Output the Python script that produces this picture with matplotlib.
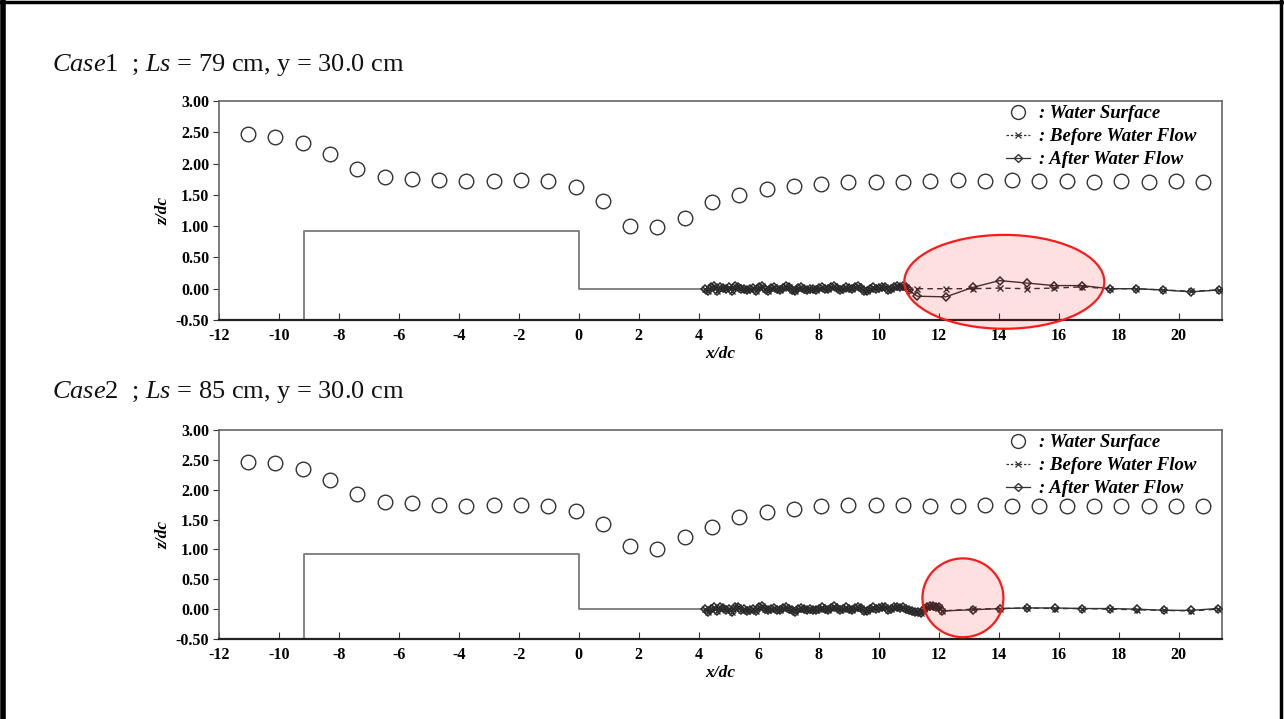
import matplotlib
matplotlib.use("Agg")
import matplotlib.pyplot as plt
from matplotlib.patches import Ellipse
from matplotlib.lines import Line2D
import matplotlib.ticker as mticker

plt.rcParams['mathtext.fontset'] = 'custom'
plt.rcParams['mathtext.it'] = 'Liberation Serif:italic'
plt.rcParams['mathtext.rm'] = 'Liberation Serif'
plt.rcParams['axes.unicode_minus'] = False

# ---------------- data ----------------
titles = [r"$\mathit{Case}$1  ; $\mathit{Ls}$ = 79 cm, y = 30.0 cm",
          r"$\mathit{Case}$2  ; $\mathit{Ls}$ = 85 cm, y = 30.0 cm"]

ws_x = [-11.03, -10.12, -9.21, -8.30, -7.39, -6.48, -5.57, -4.66, -3.75, -2.84,
        -1.93, -1.02, -0.11, 0.80, 1.71, 2.62, 3.53, 4.44, 5.35, 6.26,
        7.17, 8.08, 8.99, 9.90, 10.81, 11.72, 12.63, 13.54, 14.45, 15.36,
        16.27, 17.18, 18.09, 19.00, 19.91, 20.82]
ws_case1 = [2.47, 2.43, 2.33, 2.15, 1.91, 1.79, 1.76, 1.73, 1.72, 1.72,
            1.73, 1.72, 1.63, 1.40, 1.01, 0.99, 1.13, 1.38, 1.49, 1.59,
            1.64, 1.68, 1.70, 1.70, 1.70, 1.72, 1.74, 1.72, 1.73, 1.72,
            1.72, 1.71, 1.72, 1.70, 1.72, 1.71]
ws_case2 = [2.47, 2.45, 2.35, 2.17, 1.93, 1.80, 1.77, 1.74, 1.73, 1.74,
            1.74, 1.72, 1.65, 1.42, 1.06, 1.00, 1.20, 1.38, 1.55, 1.63,
            1.68, 1.72, 1.74, 1.74, 1.74, 1.72, 1.73, 1.74, 1.73, 1.73,
            1.72, 1.72, 1.72, 1.72, 1.72, 1.72]

# weir / flume profile
weir_x = [-9.16, -9.16, 0.0, 0.0, 4.2]
weir_z = [-0.50, 0.92, 0.92, 0.0, 0.0]

# dense measured bed (case 1)
bed1_x = [4.2, 4.3, 4.4, 4.5, 4.6, 4.7, 4.8, 4.9, 5.0, 5.1,
          5.2, 5.3, 5.4, 5.5, 5.6, 5.7, 5.8, 5.9, 6.0, 6.1,
          6.2, 6.3, 6.4, 6.5, 6.6, 6.7, 6.8, 6.9, 7.0, 7.1,
          7.2, 7.3, 7.4, 7.5, 7.6, 7.7, 7.8, 7.9, 8.0, 8.1,
          8.2, 8.3, 8.4, 8.5, 8.6, 8.7, 8.8, 8.9, 9.0, 9.1,
          9.2, 9.3, 9.4, 9.5, 9.6, 9.7, 9.8, 9.9, 10.0, 10.1,
          10.2, 10.3, 10.4, 10.5, 10.6, 10.7, 10.8, 10.9, 11.0]
bed1_z = [0.00, -0.03, 0.02, 0.04, -0.04, 0.03, 0.01, -0.01, 0.02, -0.04,
          0.05, 0.03, -0.01, 0.00, -0.02, -0.01, 0.01, -0.03, 0.02, 0.04,
          0.00, -0.03, 0.01, 0.03, -0.01, -0.02, 0.01, 0.04, 0.02, -0.02,
          -0.04, 0.01, 0.03, 0.00, -0.02, -0.01, 0.00, -0.02, 0.01, 0.02,
          0.00, -0.01, 0.03, 0.04, 0.01, -0.02, 0.00, 0.02, 0.01, -0.01,
          0.03, 0.05, 0.01, -0.03, -0.04, 0.00, 0.02, -0.01, 0.01, 0.03,
          0.02, -0.02, 0.00, 0.03, 0.04, 0.02, 0.05, 0.03, -0.02]
coarse1_x = [11.29, 12.24, 13.13, 14.03, 14.95, 15.86, 16.78, 17.70, 18.59, 19.47, 20.42, 21.35]
before1_z = [0.00, 0.00, 0.00, 0.01, 0.00, 0.01, 0.03, 0.00, 0.00, -0.02, -0.04, -0.02]
after1_z = [-0.12, -0.13, 0.02, 0.13, 0.09, 0.05, 0.05, 0.00, 0.00, -0.02, -0.05, -0.02]

# dense measured bed (case 2)
bed2_x = [4.2, 4.3, 4.4, 4.5, 4.6, 4.7, 4.8, 4.9, 5.0, 5.1,
          5.2, 5.3, 5.4, 5.5, 5.6, 5.7, 5.8, 5.9, 6.0, 6.1,
          6.2, 6.3, 6.4, 6.5, 6.6, 6.7, 6.8, 6.9, 7.0, 7.1,
          7.2, 7.3, 7.4, 7.5, 7.6, 7.7, 7.8, 7.9, 8.0, 8.1,
          8.2, 8.3, 8.4, 8.5, 8.6, 8.7, 8.8, 8.9, 9.0, 9.1,
          9.2, 9.3, 9.4, 9.5, 9.6, 9.7, 9.8, 9.9, 10.0, 10.1,
          10.2, 10.3, 10.4, 10.5, 10.6, 10.7, 10.8, 10.9, 11.0, 11.1,
          11.2, 11.3, 11.4, 11.5, 11.6, 11.7, 11.8, 11.9, 12.0, 12.1]
bed2_z = [0.00, -0.04, 0.01, 0.03, -0.03, 0.03, 0.02, -0.01, 0.01, -0.04,
          0.04, 0.04, -0.01, 0.01, -0.03, -0.01, 0.00, -0.03, 0.03, 0.05,
          0.01, -0.02, 0.00, 0.02, -0.02, -0.01, 0.02, 0.04, 0.01, -0.02,
          -0.05, 0.00, 0.02, 0.01, -0.02, 0.00, -0.01, -0.02, 0.01, 0.03,
          0.01, -0.01, 0.02, 0.05, 0.02, -0.01, 0.00, 0.03, 0.01, -0.02,
          0.02, 0.04, 0.02, -0.03, -0.03, 0.01, 0.03, 0.00, 0.02, 0.04,
          0.03, -0.01, 0.01, 0.04, 0.03, 0.02, 0.04, 0.01, -0.02, -0.03,
          -0.05, -0.04, -0.06, 0.01, 0.04, 0.06, 0.05, 0.03, 0.04, -0.03]
coarse2_x = [13.16, 14.05, 14.96, 15.88, 16.78, 17.70, 18.60, 19.53, 20.43, 21.30]
before2_z = [0.00, 0.01, 0.02, 0.01, 0.01, 0.00, -0.01, -0.02, -0.03, 0.00]
after2_z = [-0.01, 0.01, 0.02, 0.02, 0.01, 0.01, 0.00, -0.02, -0.02, 0.01]

cases = [
    dict(title=titles[0], ws=ws_case1, bed_x=bed1_x, bed_z=bed1_z,
         cx=coarse1_x, before=before1_z, after=after1_z,
         ell=(14.19, 0.11, 6.67, 1.50)),
    dict(title=titles[1], ws=ws_case2, bed_x=bed2_x, bed_z=bed2_z,
         cx=coarse2_x, before=before2_z, after=after2_z,
         ell=(12.81, 0.19, 2.70, 1.32)),
]

# ---------------- figure ----------------
W, H = 1284, 719
fig = plt.figure(figsize=(W / 100, H / 100), dpi=100)
fig.patch.set_facecolor("white")

serif = "Liberation Serif"
axes_px = [(219, 101, 1222, 320), (219, 430, 1222, 639)]
title_y = [65, 392]

for i, (c, (x0, y0, x1, y1)) in enumerate(zip(cases, axes_px)):
    ax = fig.add_axes([x0 / W, 1 - y1 / H, (x1 - x0) / W, (y1 - y0) / H])
    ax.set_xlim(-12, 21.45)
    ax.set_ylim(-0.5, 3.0)

    ax.plot(weir_x, weir_z, color="#7a7a7a", lw=1.3, zorder=2)
    ax.plot(ws_x, c["ws"], ls="none", marker="o", ms=10.5, mfc="none",
            mec="#333333", mew=1.0, zorder=3)

    bx = c["bed_x"] + c["cx"]
    ax.plot(bx, c["bed_z"] + c["before"], ls=(0, (4, 3)), color="#333333", lw=1.0,
            marker="x", ms=4.5, mew=1.0, zorder=4)
    ax.plot(bx, c["bed_z"] + c["after"], ls="-", color="#333333", lw=1.0,
            marker="D", ms=4.5, mfc="none", mec="#2a2a2a", mew=1.1, zorder=5)

    ex, ey, ew, eh = c["ell"]
    ax.add_patch(Ellipse((ex, ey), ew, eh, facecolor=(1.0, 0.0, 0.0, 0.12),
                         edgecolor="#ff1a1a", lw=1.6, clip_on=False, zorder=6))

    ax.set_xticks(list(range(-12, 21, 2)))
    ax.yaxis.set_major_locator(mticker.MultipleLocator(0.5))
    ax.yaxis.set_major_formatter(mticker.FormatStrFormatter("%.2f"))
    ax.tick_params(axis="x", direction="in", length=5, width=0.8, pad=6, colors="#333333")
    ax.tick_params(axis="y", direction="out", length=4, width=0.8, pad=3, colors="#333333")
    for lab in ax.get_xticklabels() + ax.get_yticklabels():
        lab.set_fontfamily(serif)
        lab.set_fontweight("bold")
        lab.set_fontsize(11.5)
        lab.set_color("black")
    for side in ["top", "right", "left"]:
        ax.spines[side].set_color("#666666")
        ax.spines[side].set_linewidth(1.2)
    ax.spines["bottom"].set_color("#222222")
    ax.spines["bottom"].set_linewidth(1.6)

    ax.set_ylabel("z/dc", fontfamily=serif, fontstyle="italic", fontweight="bold",
                  fontsize=12.5, labelpad=3)
    ax.set_xlabel("x/dc", fontfamily=serif, fontstyle="italic", fontweight="bold",
                  fontsize=12.5, labelpad=1)

    handles = [
        Line2D([], [], ls="none", marker="o", ms=10, mfc="none", mec="#333333", mew=1.0),
        Line2D([], [], ls=(0, (2, 1.5)), color="#333333", lw=0.9, marker="x", ms=4, mew=0.9),
        Line2D([], [], ls="-", color="#333333", lw=0.9, marker="D", ms=4, mfc="none", mec="#333333"),
    ]
    labels = [": Water Surface", ": Before Water Flow", ": After Water Flow"]
    ax.legend(handles, labels, loc="upper left",
              bbox_to_anchor=((1006 - x0) / (x1 - x0), 1.0 - 4.0 / (y1 - y0)),
              frameon=False, handlelength=1.3, handletextpad=0.45, labelspacing=0.32,
              borderpad=0.0, borderaxespad=0.0,
              prop=dict(family=serif, style="italic", weight="bold", size=13.5))

    fig.text(52 / W, 1 - title_y[i] / H, c["title"], fontfamily=serif, fontsize=19,
             ha="left", va="center", color="#111111")

# slide border (left, top, right)
fig.add_artist(Line2D([0.002, 0.002], [0, 0.998], transform=fig.transFigure, color="black", lw=4))
fig.add_artist(Line2D([0.0, 0.999], [0.997, 0.997], transform=fig.transFigure, color="black", lw=2.5))
fig.add_artist(Line2D([0.998, 0.998], [0, 0.998], transform=fig.transFigure, color="black", lw=2.5))

fig.savefig("out.png", dpi=100, facecolor="white")
